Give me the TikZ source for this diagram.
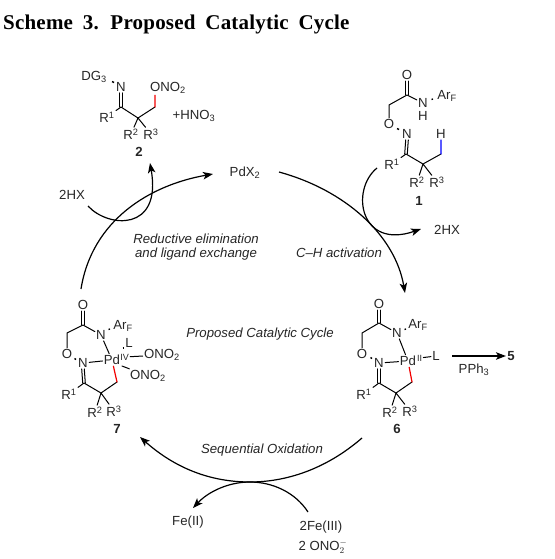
\documentclass[tikz,border=0pt]{standalone}
\usepackage{fontspec}
\setmainfont{Liberation Sans}
\newfontfamily\titlefont[LetterSpace=1,WordSpace=1.8]{Liberation Serif}
\usetikzlibrary{arrows.meta}
\newcommand{\Rn}[1]{R\textsuperscript{#1}}
\newcommand{\dn}[1]{\textsubscript{#1}}
\newcommand{\dblbond}[2]{\draw[bondline] ([xshift=-1.3pt]#1.south) -- ([xshift=-1.3pt]#2) ([xshift=1.3pt]#1.south) -- ([xshift=1.3pt]#2);}
\tikzset{
    atomnode/.style={inner sep=1.2pt, font=\fontsize{13.2}{15}\selectfont, text=black!85},
    smallnode/.style={atomnode, font=\fontsize{9}{10}\selectfont},
    tagnode/.style={atomnode, font=\fontsize{13.2}{15}\selectfont\bfseries},
    stepnode/.style={atomnode, align=center, font=\fontsize{13.2}{14.5}\selectfont\itshape},
    bondline/.style={line width=1pt, line cap=round},
    redbond/.style={bondline, line width=1.2pt, draw=red!95!black},
    bluebond/.style={bondline, line width=1.2pt, draw=blue},
    stubbond/.style={line width=1.4pt},
    cyclearrow/.style={-{Stealth[length=10pt,width=7.5pt,inset=2.5pt]}, line width=1.2pt}
}
\begin{document}
\begin{tikzpicture}[x=1pt, y=-1pt]
    \useasboundingbox (0,0) rectangle (554,559);
    \node[anchor=west, inner sep=0pt, font=\titlefont\fontsize{21}{22}\selectfont\bfseries] (title) at (3,24) {Scheme 3. Proposed Catalytic Cycle};

    % compound 2
    \node[atomnode] (dgt) at (94,77) {DG\dn{3}};
    \node[atomnode] (nb) at (121,87) {N};
    \coordinate (cb) at (121,107);
    \coordinate (qb) at (138,118);
    \coordinate (hb) at (155,107);
    \node[atomnode] (ob) at (168,88) {ONO\dn{2}};
    \node[atomnode] (rb1) at (107,117) {\Rn{1}};
    \node[atomnode] (rb2) at (131,134) {\Rn{2}};
    \node[atomnode] (rb3) at (151,134) {\Rn{3}};
    \node[atomnode] (hno) at (194,116) {+HNO\dn{3}};
    \node[tagnode] (tb) at (139,152) {2};
    \coordinate (db1) at (112,81.5);
    \coordinate (db2) at (114,82.5);
    \draw[stubbond] (db1) -- (db2);
    \dblbond{nb}{cb}
    \draw[bondline] (cb) -- (rb1) (cb) -- (qb) -- (hb) (qb) -- (rb2) (qb) -- (rb3);
    \draw[redbond] (hb) -- ([xshift=0.05pt]ob.south -| hb);

    % compound 1
    \node[atomnode] (oa) at (407,75) {O};
    \coordinate (ca) at (407,95);
    \coordinate (ha) at (389,105);
    \node[atomnode] (oc) at (389,124) {O};
    \node[atomnode] (na) at (407,134) {N};
    \node[atomnode] (nh) at (423,103) {N};
    \node[atomnode] (hn) at (423,116) {H};
    \node[atomnode] (ar) at (447,96) {Ar\dn{F}};
    \coordinate (cc) at (406,154);
    \coordinate (qa) at (423,164);
    \coordinate (hh) at (441,154);
    \node[atomnode] (hy) at (441,134) {H};
    \node[atomnode] (ra1) at (392,164) {\Rn{1}};
    \node[atomnode] (ra2) at (417,182) {\Rn{2}};
    \node[atomnode] (ra3) at (437,182) {\Rn{3}};
    \node[tagnode] (ta) at (419,201) {1};
    \coordinate (da1) at (397,128.5);
    \coordinate (da2) at (399,129.5);
    \coordinate (da3) at (431.5,99.5);
    \coordinate (da4) at (433,99);
    \draw[stubbond] (da1) -- (da2);
    \draw[stubbond] (da3) -- (da4);
    \dblbond{oa}{ca}
    \dblbond{na}{cc}
    \draw[bondline] (ca) -- (nh) (ca) -- (ha) -- (oc);
    \draw[bondline] (cc) -- (ra1) (cc) -- (qa) -- (hh) (qa) -- (ra2) (qa) -- (ra3);
    \draw[bluebond] (hh) -- ([xshift=0.05pt]hy.south);

    % compound 7
    \node[atomnode] (os) at (83,305) {O};
    \coordinate (cs) at (83,325);
    \coordinate (hs) at (67,333);
    \node[atomnode] (ot) at (67,354) {O};
    \node[atomnode] (ns) at (101,335) {N};
    \node[atomnode] (arb) at (123,326) {Ar\dn{F}};
    \node[atomnode] (ni) at (83,363) {N};
    \node[atomnode] (pds) at (112,360) {Pd};
    \node[smallnode] (iv) at (124.5,357) {IV};
    \node[atomnode] (ls) at (129,343) {L};
    \node[atomnode] (ono) at (162,355) {ONO\dn{2}};
    \node[atomnode] (onb) at (148,376) {ONO\dn{2}};
    \coordinate (ci) at (84,383);
    \coordinate (qs) at (101,393);
    \coordinate (cp) at (117,382);
    \node[atomnode] (rs1) at (69,394) {\Rn{1}};
    \node[atomnode] (rs2) at (95,412) {\Rn{2}};
    \node[atomnode] (rs3) at (114,411) {\Rn{3}};
    \node[tagnode] (ts) at (117,429) {7};
    \coordinate (ds1) at (74.5,358.5);
    \coordinate (ds2) at (76,359.5);
    \coordinate (ds3) at (108.5,329.5);
    \coordinate (ds4) at (110,329);
    \coordinate (ds5) at (122.5,348);
    \coordinate (ds6) at (123.5,348);
    \coordinate (pb1) at (122,366);
    \draw[stubbond] (ds1) -- (ds2);
    \draw[stubbond] (ds3) -- (ds4);
    \draw[stubbond] (ds5) -- (ds6);
    \dblbond{os}{cs}
    \dblbond{ni}{ci}
    \draw[bondline] (cs) -- (ns) (cs) -- (hs) -- (ot);
    \draw[bondline] (ns) -- (pds) (ni) -- (pds);
    \draw[bondline] (iv) -- (ono) (pb1) -- (onb);
    \draw[bondline] (ci) -- (rs1) (ci) -- (qs) -- (cp) (qs) -- (rs2) (qs) -- (rs3);
    \draw[redbond] (pds) -- (cp);

    % compound 6
    \node[atomnode] (oe) at (379,304) {O};
    \coordinate (ce) at (379,323);
    \coordinate (he) at (362,333);
    \node[atomnode] (of) at (362,354) {O};
    \node[atomnode] (ne) at (397,333) {N};
    \node[atomnode] (arc) at (418,325) {Ar\dn{F}};
    \node[atomnode] (nf) at (379,363) {N};
    \node[atomnode] (pde) at (408,361) {Pd};
    \node[smallnode] (ii) at (419.5,358) {II};
    \node[atomnode] (le) at (436,356) {L};
    \coordinate (cf) at (379,383);
    \coordinate (qe) at (396,393);
    \coordinate (cq) at (412,382);
    \node[atomnode] (re1) at (364,394) {\Rn{1}};
    \node[atomnode] (re2) at (390,412) {\Rn{2}};
    \node[atomnode] (re3) at (410,411) {\Rn{3}};
    \node[tagnode] (te) at (397,429) {6};
    \coordinate (de1) at (370.5,357.5);
    \coordinate (de2) at (372,358.5);
    \coordinate (de3) at (404.5,329.5);
    \coordinate (de4) at (406,329);
    \draw[stubbond] (de1) -- (de2);
    \draw[stubbond] (de3) -- (de4);
    \dblbond{oe}{ce}
    \dblbond{nf}{cf}
    \draw[bondline] (ce) -- (ne) (ce) -- (he) -- (of);
    \draw[bondline] (ne) -- (pde) (nf) -- (pde) (ii) -- (le);
    \draw[bondline] (cf) -- (re1) (cf) -- (qe) -- (cq) (qe) -- (re2) (qe) -- (re3);
    \draw[redbond] (pde) -- (cq);

    % reagents and side labels
    \node[atomnode] (pdx) at (245,173) {PdX\dn{2}};
    \node[atomnode] (hxl) at (72,195) {2HX};
    \node[atomnode] (hxr) at (447,230) {2HX};
    \node[tagnode] (five) at (511,356) {5};
    \node[atomnode] (pph) at (474,370) {PPh\dn{3}};
    \node[atomnode] (feii) at (188,522) {Fe(II)};
    \node[atomnode] (feiii) at (321,527) {2Fe(III)};
    \node[atomnode] (ono2) at (323,547) {2 ONO$_{2}^{-}$};
    \node[stepnode] (redel) at (196,247) {Reductive elimination\\and ligand exchange};
    \node[stepnode] (chact) at (339,253) {C–H activation};
    \node[stepnode] (midl) at (260,334) {Proposed Catalytic Cycle};
    \node[stepnode] (seqox) at (262,450) {Sequential Oxidation};

    % cycle
    \coordinate (ga) at (81,289);
    \coordinate (gb) at (213,174);
    \coordinate (gc) at (279,172);
    \coordinate (gd) at (405,293);
    \coordinate (ge) at (362,438);
    \coordinate (gf) at (140,437);
    \coordinate (gg) at (88,206);
    \coordinate (gh) at (150,163);
    \coordinate (gi) at (377,168);
    \coordinate (gj) at (421,229);
    \coordinate (gk) at (308,512);
    \coordinate (gl) at (193,508);
    \coordinate (gm) at (250,482);
    \draw[cyclearrow] (ga) .. controls (92,220) and (150,185) .. (gb);
    \draw[cyclearrow] (gc) .. controls (345,190) and (395,235) .. (gd);
    \draw[cyclearrow] (ge) .. controls (325,470) and (285,482) .. (gm) .. controls (210,482) and (175,468) .. (gf);
    \draw[cyclearrow] (gg) .. controls (108,228) and (162,232) .. (gh);
    \draw[cyclearrow] (gi) .. controls (350,190) and (360,250) .. (gj);
    \draw[cyclearrow] (gk) .. controls (295,492) and (272,482) .. (gm) .. controls (228,482) and (208,492) .. (gl);
    % reagent arrow
    \coordinate (pa) at (452,356);
    \draw[cyclearrow] (pa) -- (five.west);
\end{tikzpicture}
\end{document}
